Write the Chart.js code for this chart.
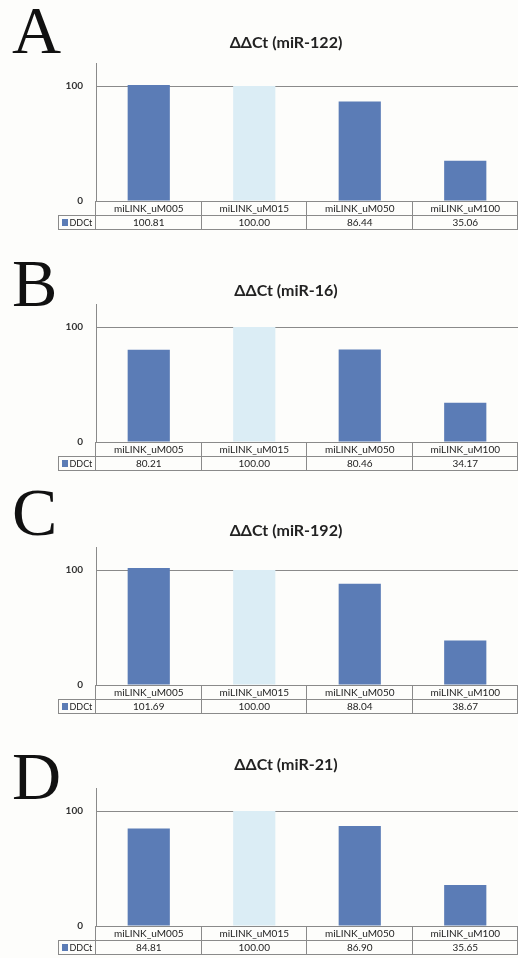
<!DOCTYPE html>
<html>
<head>
<meta charset="utf-8">
<script src="https://cdn.jsdelivr.net/npm/chart.js@4.4.1/dist/chart.umd.min.js"></script>
<style>
  html, body { margin: 0; padding: 0; background: #fdfdfb; overflow: hidden; }
  #page { position: relative; width: 518px; height: 958px; }
  .panel { position: absolute; left: 54px; width: 464px; height: 210px; }
  .letter {
    position: absolute; left: 12px;
    font-family: "Liberation Serif", "DejaVu Serif", serif;
    font-size: 68px; line-height: 68px; color: #111;
  }
</style>
</head>
<body>
<div id="page"></div>
<script>
// ---- data ----
const categories = ["miLINK_uM005", "miLINK_uM015", "miLINK_uM050", "miLINK_uM100"];
const panelLetters = ["A", "B", "C", "D"];
const panelTitles = ["ΔΔCt (miR-122)", "ΔΔCt (miR-16)", "ΔΔCt (miR-192)", "ΔΔCt (miR-21)"];
const seriesName = "DDCt";
const ddctMiR122 = [100.81, 100.00, 86.44, 35.06];
const ddctMiR16  = [80.21, 100.00, 80.46, 34.17];
const ddctMiR192 = [101.69, 100.00, 88.04, 38.67];
const ddctMiR21  = [84.81, 100.00, 86.90, 35.65];
const yTicks = [0, 100];
const yMax = 120;

const panelData = [ddctMiR122, ddctMiR16, ddctMiR192, ddctMiR21];

// ---- layout (page pixels) ----
const zeroLineY = [201, 442, 685, 926];   // y of the 0 line for each panel
const titleY    = [43, 291, 531, 765];    // title centre
const letterTop = [-4, 249, 478, 742];

const BAR_BLUE = "#5b7cb6";
const BAR_LIGHT = "#dbedf5";
const LINE = "#8a8a8a";
const AXIS_W = 42;        // y axis width inside canvas (canvas starts at x=54)
const PLOT_BOTTOM = 180;  // chart area bottom inside canvas
const ROW_H = 14;

// draws the Excel-style data table under the plot
const dataTable = {
  id: "dataTable",
  afterDraw(chart) {
    const ctx = chart.ctx;
    const ca = chart.chartArea;
    const xs = chart.scales.x;
    const vals = chart.data.datasets[0].data;
    const colW = (ca.right - ca.left) / categories.length;
    const r1 = ca.bottom, r2 = ca.bottom + ROW_H, r3 = ca.bottom + 2 * ROW_H;
    const legL = 4.5;
    ctx.save();
    ctx.strokeStyle = LINE;
    ctx.lineWidth = 1;
    ctx.beginPath();
    ctx.moveTo(ca.left, r1 + 0.5); ctx.lineTo(ca.right, r1 + 0.5);
    ctx.moveTo(legL, r2 + 0.5); ctx.lineTo(ca.right, r2 + 0.5);
    ctx.moveTo(legL, r3 + 0.5); ctx.lineTo(ca.right, r3 + 0.5);
    ctx.moveTo(legL, r2); ctx.lineTo(legL, r3 + 1);
    for (let i = 0; i <= categories.length; i++) {
      const x = Math.round(ca.left + colW * i) - 0.5;
      ctx.moveTo(x, r1); ctx.lineTo(x, r3 + 1);
    }
    ctx.stroke();

    ctx.fillStyle = "#222";
    ctx.font = "10px Lato, sans-serif";
    ctx.textAlign = "center";
    ctx.textBaseline = "middle";
    categories.forEach((c, i) => {
      const cx = xs.getPixelForValue(i);
      ctx.fillText(c, cx, r1 + ROW_H / 2 + 1);
      ctx.fillText(vals[i].toFixed(2), cx, r2 + ROW_H / 2 + 1);
    });
    // legend key
    ctx.fillStyle = BAR_BLUE;
    ctx.fillRect(8, r2 + 4, 6, 7);
    ctx.fillStyle = "#222";
    ctx.textAlign = "left";
    ctx.font = "9px Lato, sans-serif";
    ctx.fillText(seriesName, 15.5, r2 + ROW_H / 2 + 1);
    ctx.restore();
  }
};

const page = document.getElementById("page");

panelData.forEach((vals, p) => {
  const canvasTop = zeroLineY[p] - PLOT_BOTTOM;
  const wrap = document.createElement("div");
  wrap.className = "panel";
  wrap.style.top = canvasTop + "px";
  const cv = document.createElement("canvas");
  wrap.appendChild(cv);
  page.appendChild(wrap);

  const letter = document.createElement("div");
  letter.className = "letter";
  letter.style.top = letterTop[p] + "px";
  letter.textContent = panelLetters[p];
  page.appendChild(letter);

  const titleFont = 16;
  const titleH = titleFont * 1.2;
  const plotTop = PLOT_BOTTOM - 138;
  const padTop = titleY[p] - canvasTop - titleH / 2;
  const padBottom = plotTop - padTop - titleH;

  new Chart(cv, {
    type: "bar",
    data: {
      labels: categories,
      datasets: [{
        label: seriesName,
        data: vals,
        backgroundColor: vals.map((v, i) => i === 1 ? BAR_LIGHT : BAR_BLUE),
        borderWidth: 0,
        barPercentage: 0.4,
        categoryPercentage: 1.0,
      }],
    },
    options: {
      responsive: true, maintainAspectRatio: false,
      animation: false,
      layout: { padding: { left: 0, right: 0, top: 0, bottom: 210 - PLOT_BOTTOM } },
      plugins: {
        legend: { display: false },
        tooltip: { enabled: false },
        title: {
          display: true, text: panelTitles[p], color: "#222",
          font: { family: "Lato, sans-serif", size: titleFont, weight: "bold", lineHeight: 1.2 },
          padding: { top: padTop, bottom: padBottom },
        },
      },
      scales: {
        x: { display: false },
        y: {
          min: 0, max: yMax,
          afterFit: s => { s.width = AXIS_W; },
          afterBuildTicks: s => { s.ticks = yTicks.map(v => ({ value: v })); },
          ticks: { color: "#333", padding: 13, font: { family: "Lato, sans-serif", size: 10, weight: "bold" } },
          grid: { color: LINE, drawTicks: false },
          border: { color: LINE, width: 1 },
        },
      },
    },
    plugins: [dataTable],
  });
});
</script>
</body>
</html>
